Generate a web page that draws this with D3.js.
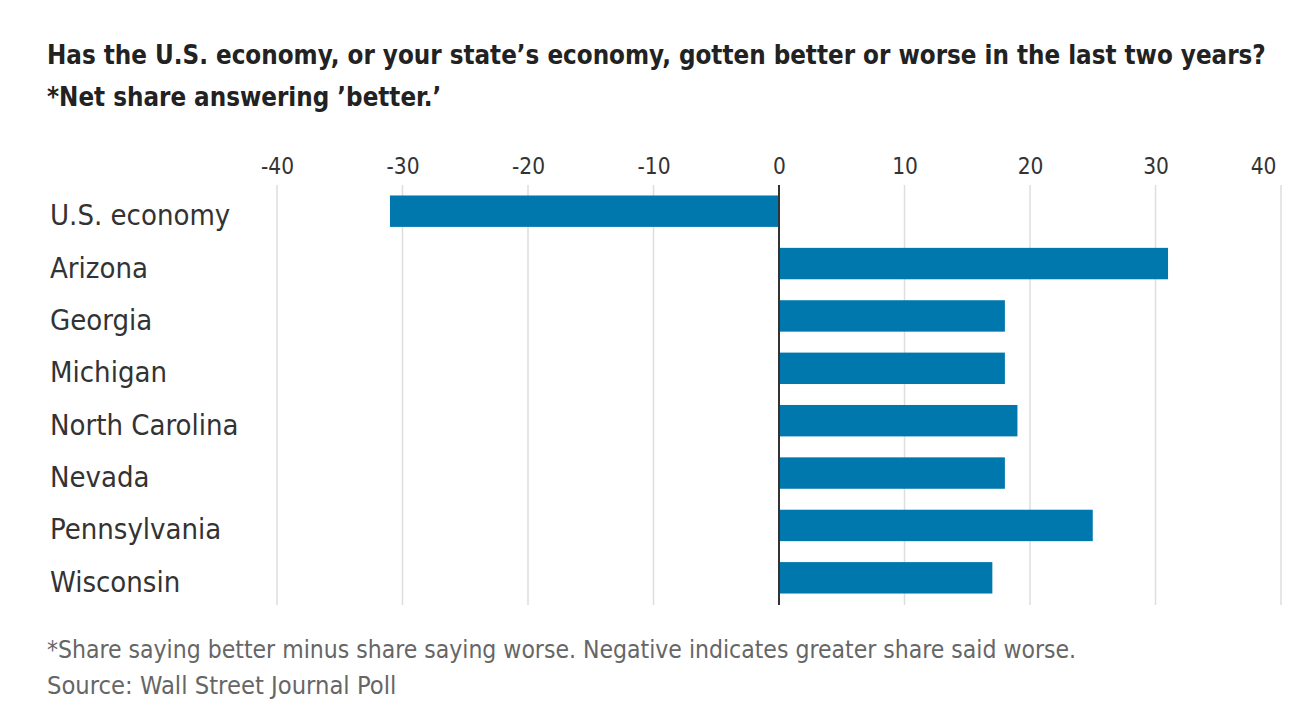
<!DOCTYPE html>
<html>
<head>
<meta charset="utf-8">
<script src="https://cdn.jsdelivr.net/npm/d3@7"></script>
<style>
  body { margin: 0; background: #fff; }
  svg { display: block; }
  text { font-family: "DejaVu Sans Condensed", "Roboto", sans-serif; }
</style>
</head>
<body>
<svg width="1294" height="712"></svg>
<script>
const categories = ['U.S. economy', 'Arizona', 'Georgia', 'Michigan', 'North Carolina', 'Nevada', 'Pennsylvania', 'Wisconsin'];
const netBetter = [-31, 31, 18, 18, 19, 18, 25, 17];
const tickValues = [-40, -30, -20, -10, 0, 10, 20, 30, 40];

const titleLines = [
  'Has the U.S. economy, or your state\u2019s economy, gotten better or worse in the last two years?',
  '*Net share answering \u2019better.\u2019'
];
const notes = [
  '*Share saying better minus share saying worse. Negative indicates greater share said worse.',
  'Source: Wall Street Journal Poll'
];

const data = categories.map((name, i) => ({name, value: netBetter[i]}));

const svg = d3.select('svg');

const x = d3.scaleLinear().domain([-40, 40]).range([277, 1281]);
const y = d3.scaleBand().domain(categories).range([185, 604]).paddingInner(0.4).paddingOuter(0.2);

// title
svg.append('g')
  .selectAll('text')
  .data(titleLines)
  .enter()
  .append('text')
  .attr('x', 47)
  .attr('y', (d, i) => 64 + i * 42)
  .attr('font-size', 25.7)
  .attr('font-weight', 'bold')
  .attr('fill', '#222')
  .text((d) => d);

// gridlines
svg.append('g')
  .selectAll('line')
  .data(tickValues.filter((t) => t !== 0))
  .enter()
  .append('line')
  .attr('x1', (d) => x(d))
  .attr('x2', (d) => x(d))
  .attr('y1', 185)
  .attr('y2', 605)
  .style('stroke', '#dedede')
  .style('stroke-width', 1.5);

// axis labels on top
const axis = svg.append('g')
  .attr('transform', 'translate(0,174)')
  .call(d3.axisTop(x).tickValues(tickValues).tickSize(0).tickPadding(0).tickFormat((d) => d < 0 ? '-' + Math.abs(d) : d));
axis.select('.domain').remove();
axis.selectAll('text')
  .attr('font-size', 22.5)
  .attr('fill', '#333')
  .style('font-family', '"DejaVu Sans Condensed", sans-serif');
// last label kept inside the chart edge
axis.selectAll('.tick')
  .filter((d) => d === 40)
  .select('text')
  .attr('text-anchor', 'end')
  .attr('x', -5);

// bars
svg.append('g')
  .selectAll('rect')
  .data(data)
  .enter()
  .append('rect')
  .attr('x', (d) => x(Math.min(0, d.value)))
  .attr('width', (d) => Math.abs(x(d.value) - x(0)))
  .attr('y', (d) => y(d.name))
  .attr('height', y.bandwidth())
  .style('fill', '#0078ad');

// zero line
svg.append('line')
  .attr('x1', x(0))
  .attr('x2', x(0))
  .attr('y1', 185)
  .attr('y2', 605)
  .style('stroke', '#333')
  .style('stroke-width', 2);

// category labels
svg.append('g')
  .selectAll('text')
  .data(data)
  .enter()
  .append('text')
  .attr('x', 50)
  .attr('y', (d) => y(d.name) + y.bandwidth() / 2 + 14)
  .attr('font-size', 29)
  .attr('fill', '#333')
  .text((d) => d.name);

// footnotes
svg.append('g')
  .selectAll('text')
  .data(notes)
  .enter()
  .append('text')
  .attr('x', 47)
  .attr('y', (d, i) => 658 + i * 36)
  .attr('font-size', (d, i) => i === 0 ? 24.5 : 25.3)
  .attr('fill', '#666')
  .text((d) => d);
</script>
</body>
</html>
